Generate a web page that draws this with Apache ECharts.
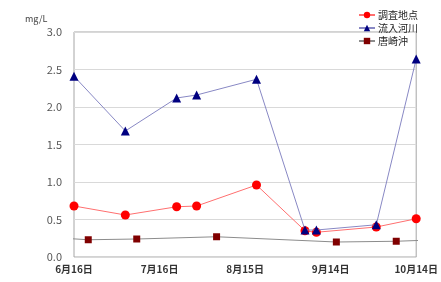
<!DOCTYPE html>
<html lang="ja">
<head>
    <meta charset="utf-8">
    <title>mg/L 推移</title>
    <script src="https://cdn.jsdelivr.net/npm/echarts@6/dist/echarts.min.js"></script>
</head>
<body style="margin:0;background:#fff">
<div id="main" style="width:441px;height:282px"></div>
<script type="text/javascript">
    // データ (6月16日 = 0日目)
    var startDate = '2010-06-16';
    var tickLabels = ['6月16日', '7月16日', '8月15日', '9月14日', '10月14日'];
    var siteDates = ['2010-06-16', '2010-07-04', '2010-07-22', '2010-07-29', '2010-08-19', '2010-09-05', '2010-09-09', '2010-09-30', '2010-10-14'];
    var chousaValues = [0.68, 0.56, 0.67, 0.68, 0.96, 0.35, 0.33, 0.40, 0.51];
    var kasenValues = [2.41, 1.68, 2.12, 2.16, 2.37, 0.36, 0.36, 0.43, 2.64];
    var karasakiDates = ['2010-06-08', '2010-06-21', '2010-07-08', '2010-08-05', '2010-09-16', '2010-10-07', '2010-10-22'];
    var karasakiValues = [0.26, 0.23, 0.24, 0.27, 0.20, 0.21, 0.23];

    function dayNo(d) {
        return Math.round((new Date(d) - new Date(startDate)) / 86400000);
    }
    function pairs(dates, vals) {
        return dates.map(function (d, i) { return [dayNo(d), vals[i]]; });
    }

    var myChart = echarts.init(document.getElementById('main'));
    var font = '"Noto Sans CJK JP", sans-serif';
    option = {
        animation: false,
        textStyle: { fontFamily: font },
        grid: { left: 74, right: 18, top: 32, bottom: 25, show: true, borderColor: '#a6a6a6', borderWidth: 1 },
        title: {
            text: 'mg/L', left: 20, top: 9,
            textStyle: { fontSize: 9, fontWeight: 'normal', color: '#404040', fontFamily: font }
        },
        legend: {
            orient: 'vertical', right: 18, top: 5, itemGap: 3, itemWidth: 16, itemHeight: 8,
            textStyle: { fontSize: 10, color: '#222', fontFamily: font, padding: [0, 0, 0, -2] },
            data: ['調査地点', '流入河川', '唐崎沖']
        },
        xAxis: {
            type: 'value', min: 0, max: 120, interval: 30,
            axisLine: { show: false }, axisTick: { show: false }, splitLine: { show: false },
            axisLabel: {
                fontSize: 10, fontWeight: 'bold', color: '#333', margin: 7, fontFamily: font,
                formatter: function (v) { return tickLabels[v / 30]; }
            }
        },
        yAxis: {
            type: 'value', min: 0, max: 3, interval: 0.5,
            axisLine: { show: false }, axisTick: { show: false },
            splitLine: { lineStyle: { color: '#d9d9d9' } },
            axisLabel: {
                fontSize: 11, color: '#555', margin: 12, fontFamily: font,
                formatter: function (v) { return v.toFixed(1); }
            }
        },
        series: [{
            name: '調査地点', type: 'line', data: pairs(siteDates, chousaValues),
            symbol: 'circle', symbolSize: 9, color: '#ff0000',
            lineStyle: { color: '#ff6f6f', width: 1 }, itemStyle: { color: '#ff0000' }, z: 4
        }, {
            name: '流入河川', type: 'line', data: pairs(siteDates, kasenValues),
            symbol: 'triangle', symbolSize: 9, color: '#000080',
            lineStyle: { color: '#8888c4', width: 1 }, itemStyle: { color: '#000080' }, z: 5
        }, {
            name: '唐崎沖', type: 'line', data: pairs(karasakiDates, karasakiValues),
            symbol: 'rect', symbolSize: 7, color: '#800000', clip: true,
            lineStyle: { color: '#8c8c8c', width: 1 }, itemStyle: { color: '#800000' }, z: 3
        }]
    };
    myChart.setOption(option);
</script>
</body>
</html>
